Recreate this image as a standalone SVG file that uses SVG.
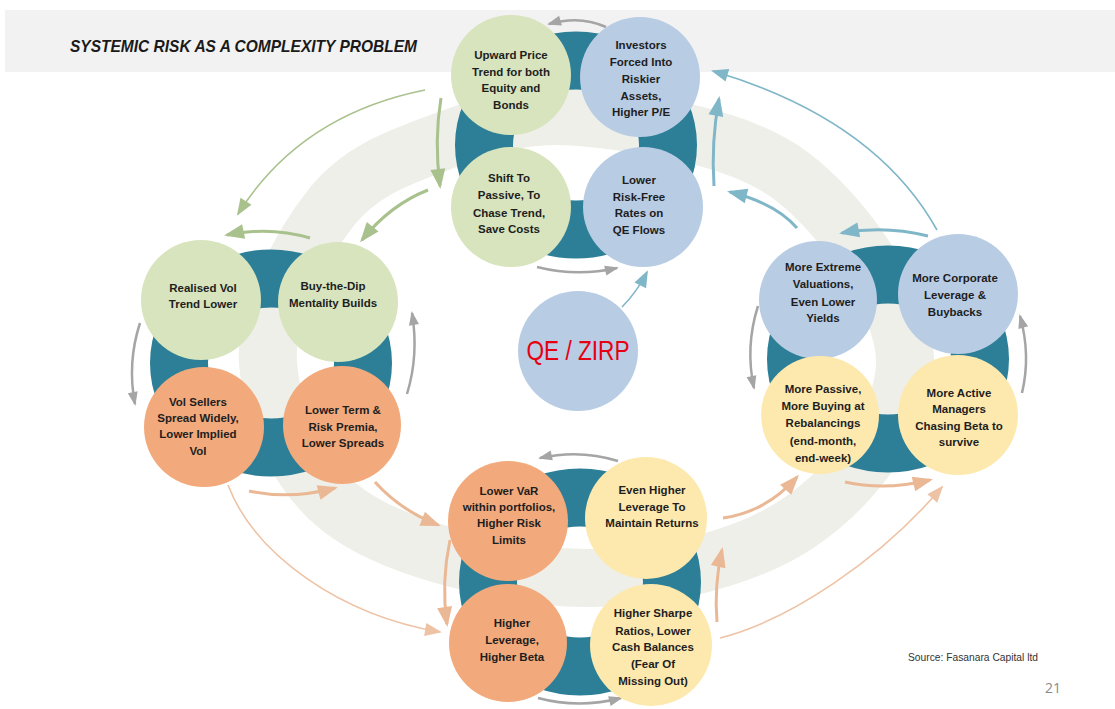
<svg xmlns="http://www.w3.org/2000/svg" width="1115" height="709" viewBox="0 0 1115 709">
<style>
.t{font-family:"Liberation Sans",Arial,sans-serif;font-weight:bold;font-size:11.5px;fill:#1e1e1e;text-anchor:middle}
.ring{fill:none;stroke:#2c7f96;stroke-width:58}
.g{fill:#d7e4bd}.b{fill:#b8cce4}.o{fill:#f2aa7c}.y{fill:#fde9ae}
.ag{fill:none;stroke:#a5a5a5;stroke-width:2.5;marker-end:url(#hGr)}
.tg{fill:none;stroke:#a9c18d;stroke-width:3;marker-end:url(#hG)}
.ng{fill:none;stroke:#a9c18d;stroke-width:1.6;marker-end:url(#nG)}
.tb{fill:none;stroke:#7fb6c8;stroke-width:3;marker-end:url(#hB)}
.nb{fill:none;stroke:#7fb6c8;stroke-width:1.6;marker-end:url(#nB)}
.tp{fill:none;stroke:#eab894;stroke-width:3;marker-end:url(#hP)}
.np{fill:none;stroke:#eec3a5;stroke-width:1.6;marker-end:url(#nP)}
</style>
<defs>
<marker id="hG" markerUnits="userSpaceOnUse" markerWidth="20" markerHeight="15" refX="17" refY="7.5" orient="auto" overflow="visible"><path d="M0,0 L20,7.5 L0,15 Z" fill="#a9c18d"/></marker>
<marker id="hB" markerUnits="userSpaceOnUse" markerWidth="20" markerHeight="15" refX="17" refY="7.5" orient="auto" overflow="visible"><path d="M0,0 L20,7.5 L0,15 Z" fill="#7fb6c8"/></marker>
<marker id="hP" markerUnits="userSpaceOnUse" markerWidth="20" markerHeight="15" refX="17" refY="7.5" orient="auto" overflow="visible"><path d="M0,0 L20,7.5 L0,15 Z" fill="#eab894"/></marker>
<marker id="nG" markerUnits="userSpaceOnUse" markerWidth="17" markerHeight="13" refX="15" refY="6.5" orient="auto" overflow="visible"><path d="M0,0 L17,6.5 L0,13 Z" fill="#a9c18d"/></marker>
<marker id="nB" markerUnits="userSpaceOnUse" markerWidth="17" markerHeight="13" refX="15" refY="6.5" orient="auto" overflow="visible"><path d="M0,0 L17,6.5 L0,13 Z" fill="#7fb6c8"/></marker>
<marker id="nP" markerUnits="userSpaceOnUse" markerWidth="17" markerHeight="13" refX="15" refY="6.5" orient="auto" overflow="visible"><path d="M0,0 L17,6.5 L0,13 Z" fill="#eec3a5"/></marker>
<marker id="hGr" markerUnits="userSpaceOnUse" markerWidth="14" markerHeight="10" refX="12" refY="5" orient="auto" overflow="visible"><path d="M0,0 L14,5 L0,10 Z" fill="#a5a5a5"/></marker>
</defs>
<rect width="1115" height="709" fill="#ffffff"/>
<rect x="5" y="10" width="1110" height="62" fill="#f2f2f2"/>
<text x="70" y="52" font-family="'Liberation Sans',Arial,sans-serif" font-weight="bold" font-style="italic" font-size="17" fill="#1a1a1a" textLength="347" lengthAdjust="spacingAndGlyphs">SYSTEMIC RISK AS A COMPLEXITY PROBLEM</text>
<path id="band" d="M580,117 C638.7,122.3 735.8,134.7 790,175 C844.2,215.3 903.3,301.2 905,359 C906.7,416.8 853.3,485.5 800,522 C746.7,558.5 660,579.2 585,578 C510,576.8 402.8,550.8 350,515 C297.2,479.2 271.3,414 268,363 C264.7,312 301.7,245.7 330,209 C358.3,172.3 396.3,158.3 438,143 C479.7,127.7 521.3,111.7 580,117 Z" fill="none" stroke="#efefe9" stroke-width="58"/>
<g id="rings">
<ellipse class="ring" cx="576" cy="145" rx="92" ry="84.5"/>
<ellipse class="ring" cx="271" cy="363" rx="92" ry="84.5"/>
<ellipse class="ring" cx="888" cy="359" rx="92" ry="84.5"/>
<ellipse class="ring" cx="580" cy="582" rx="92" ry="84.5"/>
</g>
<g id="connectors">
<path class="ag" d="M606,27 Q580,15 549,24"/>
<path class="ag" d="M537,267 Q577,277 617,268"/>
<path class="ag" d="M140,323 Q127,363 135,404"/>
<path class="ag" d="M407,394 Q419,355 412,313"/>
<path class="ag" d="M758,306 Q745,347 754,388"/>
<path class="ag" d="M1022,393 Q1031,355 1020,316"/>
<path class="ag" d="M618,461 Q580,449 540,458"/>
<path class="ag" d="M538,698 Q579,709 621,698"/>
<path class="tg" d="M441,98 Q434,140 440,186"/>
<path class="tg" d="M428,190 Q390,205 362,240"/>
<path class="tg" d="M310,238 Q270,226 227,235"/>
<path class="ng" d="M425,90 Q300,115 238,214"/>
<path class="tb" d="M714,186 Q711,142 719,99"/>
<path class="tb" d="M797,228 Q775,203 730,192"/>
<path class="tb" d="M928,236 Q885,225 842,233"/>
<path class="nb" d="M937,230 Q875,119 713,71"/>
<path class="nb" d="M622,307 Q637,292 647,272"/>
<path class="tp" d="M450,540 Q441,582 447,624"/>
<path class="tp" d="M717,622 Q714,585 722,550"/>
<path class="tp" d="M249,491 Q290,500 335,488"/>
<path class="tp" d="M375,482 Q400,510 438,525"/>
<path class="tp" d="M723,518 Q766,512 797,477"/>
<path class="tp" d="M845,482 Q885,491 930,480"/>
<path class="np" d="M228,485 C255,555 340,615 440,632"/>
<path class="np" d="M720,638 C790,620 880,560 942,487"/>
</g>
<g id="n-upward"><circle class="g" cx="511" cy="75" r="60"/><text class="t"><tspan x="511" y="59">Upward Price</tspan><tspan x="511" y="76">Trend for both</tspan><tspan x="511" y="92">Equity and</tspan><tspan x="511" y="109">Bonds</tspan></text></g>
<g id="n-investors"><circle class="b" cx="640" cy="77" r="60"/><text class="t"><tspan x="641" y="49">Investors</tspan><tspan x="641" y="66">Forced Into</tspan><tspan x="641" y="83">Riskier</tspan><tspan x="641" y="100">Assets,</tspan><tspan x="641" y="116">Higher P/E</tspan></text></g>
<g id="n-shift"><circle class="g" cx="511" cy="207" r="60"/><text class="t"><tspan x="509" y="182">Shift To</tspan><tspan x="509" y="199">Passive, To</tspan><tspan x="509" y="217">Chase Trend,</tspan><tspan x="509" y="233">Save Costs</tspan></text></g>
<g id="n-lowerrf"><circle class="b" cx="643" cy="207" r="60"/><text class="t"><tspan x="639" y="184">Lower</tspan><tspan x="639" y="201">Risk-Free</tspan><tspan x="639" y="217">Rates on</tspan><tspan x="639" y="234">QE Flows</tspan></text></g>
<g id="n-realised"><circle class="g" cx="201" cy="300" r="60"/><text class="t"><tspan x="203" y="292">Realised Vol</tspan><tspan x="203" y="308">Trend Lower</tspan></text></g>
<g id="n-buydip"><circle class="g" cx="338" cy="302" r="60"/><text class="t"><tspan x="333" y="290">Buy-the-Dip</tspan><tspan x="333" y="307">Mentality Builds</tspan></text></g>
<g id="n-volsellers"><circle class="o" cx="204" cy="427" r="60"/><text class="t"><tspan x="198" y="406">Vol Sellers</tspan><tspan x="198" y="422">Spread Widely,</tspan><tspan x="198" y="438">Lower Implied</tspan><tspan x="198" y="455">Vol</tspan></text></g>
<g id="n-lowerterm"><circle class="o" cx="342" cy="425" r="59"/><text class="t"><tspan x="343" y="414">Lower Term &amp;</tspan><tspan x="343" y="431">Risk Premia,</tspan><tspan x="343" y="447">Lower Spreads</tspan></text></g>
<g id="n-extreme"><circle class="b" cx="818" cy="300" r="59"/><text class="t"><tspan x="823" y="271">More Extreme</tspan><tspan x="823" y="288">Valuations,</tspan><tspan x="823" y="306">Even Lower</tspan><tspan x="823" y="322">Yields</tspan></text></g>
<g id="n-corporate"><circle class="b" cx="958" cy="294" r="60"/><text class="t"><tspan x="955" y="282">More Corporate</tspan><tspan x="955" y="299">Leverage &amp;</tspan><tspan x="955" y="316">Buybacks</tspan></text></g>
<g id="n-passive"><circle class="y" cx="820" cy="415" r="59"/><text class="t"><tspan x="823" y="393">More Passive,</tspan><tspan x="823" y="410">More Buying at</tspan><tspan x="823" y="427">Rebalancings</tspan><tspan x="823" y="445">(end-month,</tspan><tspan x="823" y="462">end-week)</tspan></text></g>
<g id="n-active"><circle class="y" cx="958" cy="415" r="60"/><text class="t"><tspan x="959" y="397">More Active</tspan><tspan x="959" y="413">Managers</tspan><tspan x="959" y="430">Chasing Beta to</tspan><tspan x="959" y="446">survive</tspan></text></g>
<g id="n-lowervar"><circle class="o" cx="508" cy="521" r="60"/><text class="t"><tspan x="509" y="495">Lower VaR</tspan><tspan x="509" y="511">within portfolios,</tspan><tspan x="509" y="527">Higher Risk</tspan><tspan x="509" y="544">Limits</tspan></text></g>
<g id="n-evenhigher"><circle class="y" cx="646" cy="518" r="61"/><text class="t"><tspan x="652" y="494">Even Higher</tspan><tspan x="652" y="511">Leverage To</tspan><tspan x="652" y="527">Maintain Returns</tspan></text></g>
<g id="n-higherlev"><circle class="o" cx="508" cy="643" r="59"/><text class="t"><tspan x="512" y="627">Higher</tspan><tspan x="512" y="644">Leverage,</tspan><tspan x="512" y="661">Higher Beta</tspan></text></g>
<g id="n-sharpe"><circle class="y" cx="651" cy="645" r="61"/><text class="t"><tspan x="653" y="617">Higher Sharpe</tspan><tspan x="653" y="635">Ratios, Lower</tspan><tspan x="653" y="651">Cash Balances</tspan><tspan x="653" y="668">(Fear Of</tspan><tspan x="653" y="685">Missing Out)</tspan></text></g>
<g id="n-qe"><circle class="b" cx="578" cy="351" r="60"/><text x="578" y="360" font-family="'Liberation Sans',Arial,sans-serif" font-size="28" fill="#e60012" text-anchor="middle" textLength="103" lengthAdjust="spacingAndGlyphs">QE / ZIRP</text></g>
<text x="908" y="661" font-family="'Liberation Sans',Arial,sans-serif" font-size="10.5" fill="#333333" textLength="130" lengthAdjust="spacingAndGlyphs">Source: Fasanara Capital ltd</text>
<text x="1045" y="693" font-family="'Open Sans','Liberation Sans',sans-serif" font-size="14" fill="#8a8a8a">21</text>
</svg>
